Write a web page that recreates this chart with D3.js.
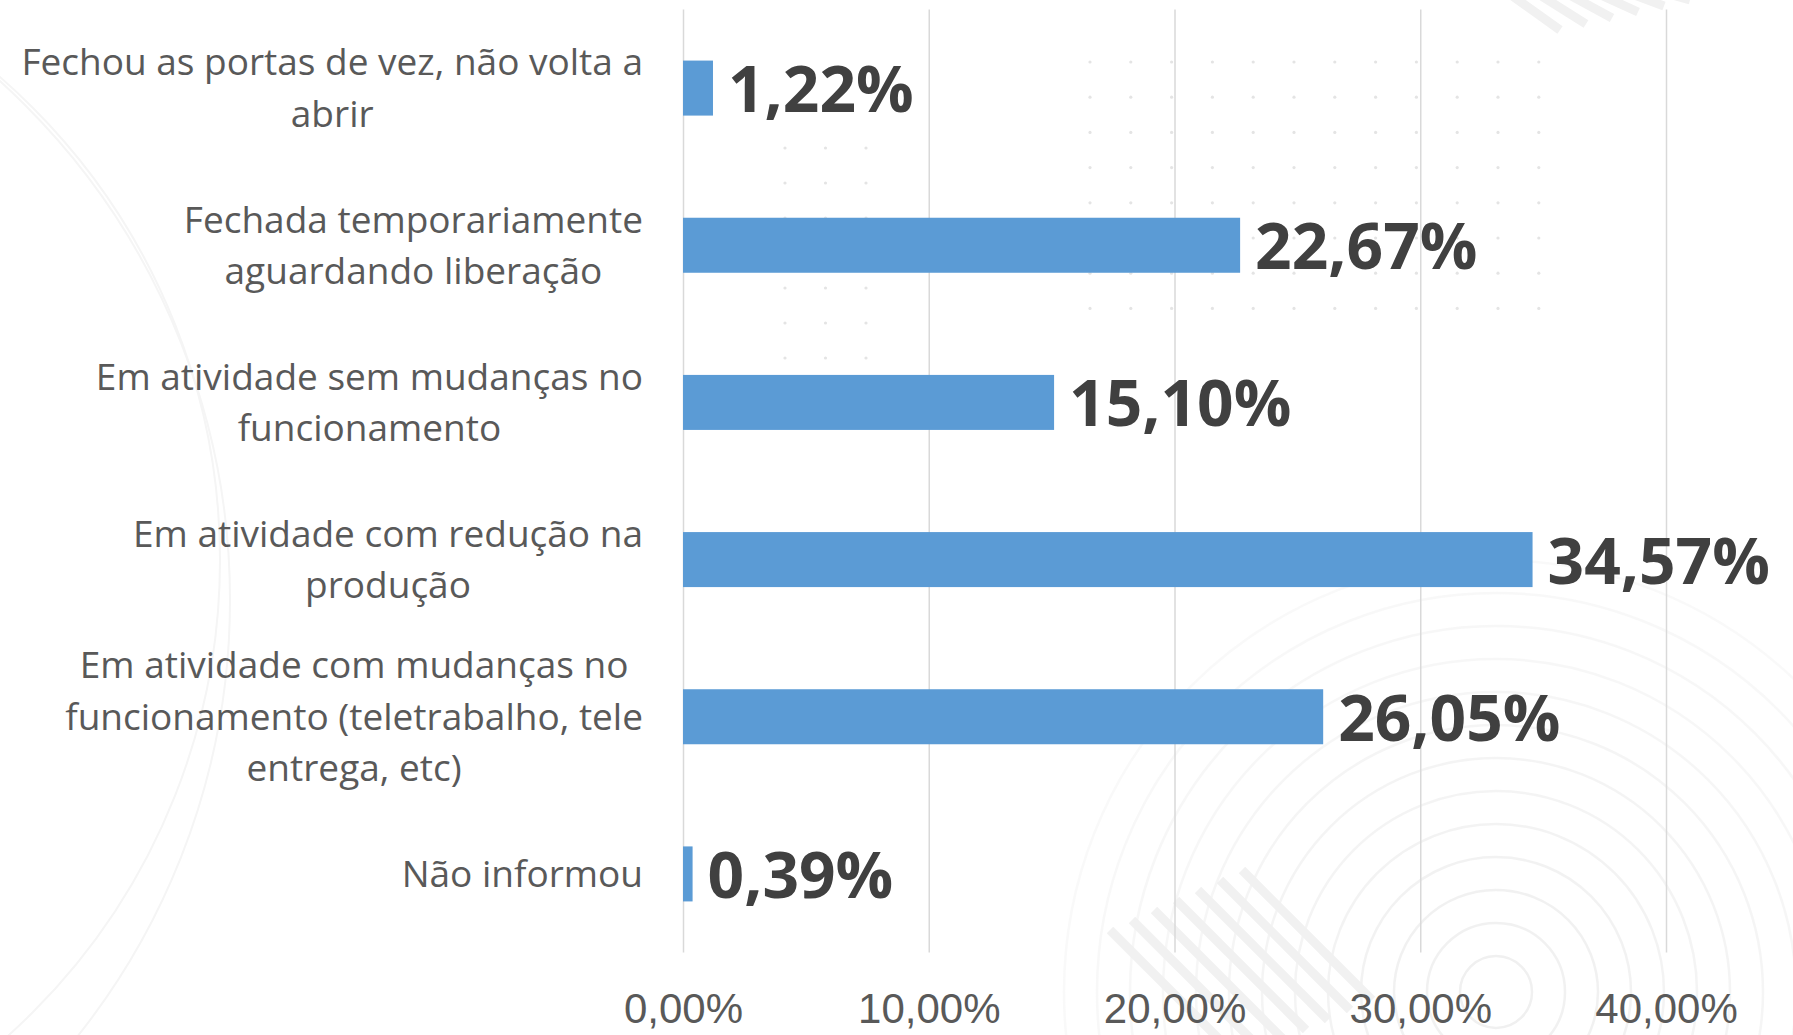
<!DOCTYPE html>
<html lang="pt-BR">
<head>
<meta charset="utf-8">
<title>Situação das empresas</title>
<script src="https://cdn.jsdelivr.net/npm/d3@7"></script>
<style>
  html, body { margin: 0; padding: 0; background: #ffffff; }
  svg { display: block; font-family: "Open Sans", "Noto Sans", sans-serif; }
</style>
</head>
<body>
<svg id="chart" width="1793" height="1035"></svg>
<script>
// ===== DADOS =====

const categoryLines = [
  ["Fechou as portas de vez, não volta a", "abrir"],
  ["Fechada temporariamente", "aguardando liberação"],
  ["Em atividade sem mudanças no", "funcionamento"],
  ["Em atividade com redução na", "produção"],
  ["Em atividade com mudanças no", "funcionamento (teletrabalho, tele", "entrega, etc)"],
  ["Não informou"]
];
const values = [1.22, 22.67, 15.10, 34.57, 26.05, 0.39];
const xTicks = [0, 10, 20, 30, 40];

// ===== CONFIGURAÇÃO =====

const W = 1793;
const H = 1035;
const plot = { left: 683, right: 1666, top: 9.5, bottom: 952.5 };
const labelRight = 643;
const lineHeight = 51.5;

const ptBR = d3.formatLocale({
  decimal: ",",
  thousands: ".",
  grouping: [3],
  currency: ["R$", ""]
});
const fmt = ptBR.format(".2f");

const svg = d3.select("#chart");

svg.append("rect").attr("width", W).attr("height", H).attr("fill", "#ffffff");

// ===== FUNDO DECORATIVO =====

const deco = svg.append("g").attr("class", "decoration");

// arcos grandes e suaves
[[-420, 560, 640], [-470, 600, 700]].forEach(([cx, cy, r]) => {
  deco.append("circle")
    .attr("cx", cx).attr("cy", cy).attr("r", r)
    .attr("fill", "none").attr("stroke", "#f5f5f5").attr("stroke-width", 2);
});

// círculos concêntricos no canto inferior direito
d3.range(36, 460, 33).forEach((r, i) => {
  deco.append("circle")
    .attr("cx", 1496).attr("cy", 992).attr("r", r)
    .attr("fill", "none")
    .attr("stroke", "#f0f0f0")
    .attr("stroke-width", 2.5)
    .attr("opacity", Math.max(0.35, 1 - i * 0.05));
});

// listras diagonais
const stripes = deco.append("g").attr("stroke", "#f1f1f1").attr("stroke-width", 9);
d3.range(0, 7).forEach(i => {
  stripes.append("line")
    .attr("x1", 1110 + i * 22).attr("y1", 930 - i * 10)
    .attr("x2", 1240 + i * 22).attr("y2", 1060 - i * 10);
});
d3.range(0, 6).forEach(i => {
  stripes.append("line")
    .attr("x1", 1490 + i * 26).attr("y1", -20)
    .attr("x2", 1560 + i * 26).attr("y2", 30 - i * 6);
});

// grade de pontos
const dots = deco.append("g").attr("fill", "#e4e4e4");
d3.range(0, 12).forEach(c => {
  d3.range(0, 8).forEach(r => {
    dots.append("circle").attr("cx", 1090 + c * 40.8).attr("cy", 62 + r * 35.2).attr("r", 1.6);
  });
});
d3.range(0, 3).forEach(c => {
  d3.range(0, 7).forEach(r => {
    dots.append("circle").attr("cx", 785 + c * 40.5).attr("cy", 148 + r * 35).attr("r", 1.6);
  });
});

// ===== ESCALAS =====

const x = d3.scaleLinear().domain([0, 40]).range([plot.left, plot.right]);

const y = d3.scaleBand()
  .domain(d3.range(values.length))
  .range([plot.top, plot.bottom])
  .paddingInner(0.65)
  .paddingOuter(0.325);

// ===== GRADE E EIXO X =====

const xAxis = d3.axisBottom(x)
  .tickValues(xTicks)
  .tickSize(-(plot.bottom - plot.top))
  .tickPadding(0)
  .tickFormat(d => fmt(d) + "%");

const gx = svg.append("g")
  .attr("transform", `translate(0, ${plot.bottom})`)
  .call(xAxis);

gx.select(".domain").remove();
gx.selectAll(".tick line").attr("stroke", "#d9d9d9").attr("stroke-width", 1.5);
gx.selectAll(".tick text")
  .attr("y", 70)
  .attr("dy", null)
  .attr("fill", "#595959")
  .style("font-size", "42px");

// ===== BARRAS =====

svg.append("g")
  .selectAll("rect")
  .data(values)
  .join("rect")
  .attr("x", x(0))
  .attr("y", (d, i) => y(i))
  .attr("width", d => x(d) - x(0))
  .attr("height", y.bandwidth())
  .attr("fill", "#5b9bd5");

// ===== RÓTULOS DE VALOR =====

svg.append("g")
  .selectAll("text")
  .data(values)
  .join("text")
  .attr("x", d => x(d) + 15)
  .attr("y", (d, i) => y(i) + y.bandwidth() / 2 + 24)
  .attr("fill", "#404040")
  .style("font-size", "64px")
  .style("font-weight", 700)
  .text(d => fmt(d) + "%");

// ===== RÓTULOS DE CATEGORIA =====

const labelGroups = svg.append("g")
  .selectAll("g")
  .data(categoryLines)
  .join("g");

labelGroups.each(function (lines, i) {
  const g = d3.select(this);
  const cy = y(i) + y.bandwidth() / 2;
  const texts = g.selectAll("text")
    .data(lines)
    .join("text")
    .attr("text-anchor", "middle")
    .attr("y", (d, j) => cy + (j - (lines.length - 1) / 2) * lineHeight + 13)
    .attr("fill", "#595959")
    .style("font-size", "37px")
    .text(d => d);

  // linhas centradas entre si, bloco alinhado à direita
  let maxW = 0;
  texts.each(function () { maxW = Math.max(maxW, this.getComputedTextLength()); });
  texts.attr("x", labelRight - maxW / 2);
});
</script>
</body>
</html>
